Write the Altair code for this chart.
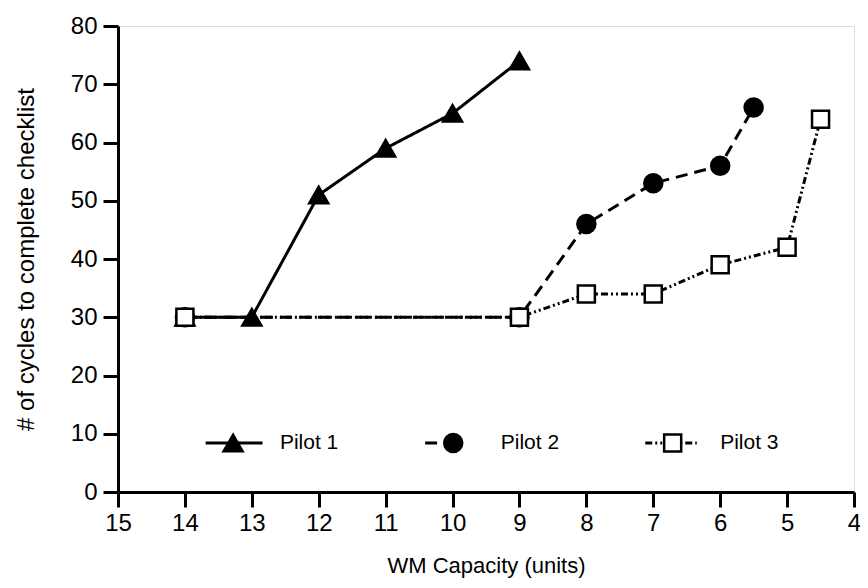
import altair as alt
import pandas as pd

# ---- data ----
pilot1_x = [14, 13, 12, 11, 10, 9]
pilot1_y = [30, 30, 51, 59, 65, 74]
pilot2_x = [14, 9, 8, 7, 6, 5.5]
pilot2_y = [30, 30, 46, 53, 56, 66]
pilot3_x = [14, 9, 8, 7, 6, 5, 4.5]
pilot3_y = [30, 30, 34, 34, 39, 42, 64]

pilots = ["Pilot 1", "Pilot 2", "Pilot 3"]

# legend placement (in data units, inside the plot)
legend_y = 8.4
legend_line_x1 = [13.69, 10.41, 7.12]
legend_line_x2 = [12.84, 9.86, 6.35]
legend_mark_x = [13.28, 9.99, 6.71]
legend_text_x = [12.58, 9.28, 6.0]

x_ticks = [4 + 0.5 * i for i in range(23)]
y_ticks = [5 * i for i in range(17)]

FONT = "Liberation Sans"

rows = []
for name, xs, ys in zip(pilots, [pilot1_x, pilot2_x, pilot3_x], [pilot1_y, pilot2_y, pilot3_y]):
    for xv, yv in zip(xs, ys):
        rows.append({"pilot": name, "x": xv, "y": yv})
df = pd.DataFrame(rows)

leg = pd.DataFrame({
    "pilot": pilots,
    "x1": legend_line_x1,
    "x2": legend_line_x2,
    "mx": legend_mark_x,
    "tx": legend_text_x,
    "y": [legend_y] * 3,
})

dash_scale = alt.Scale(domain=pilots, range=[[1, 0], [12, 7], [7, 3, 2, 3, 2, 3]])
shape_scale = alt.Scale(domain=pilots, range=["triangle-up", "circle", "square"])
fill_scale = alt.Scale(domain=pilots, range=["black", "black", "white"])
size_scale = alt.Scale(domain=pilots, range=[360, 290, 230])

x_scale = alt.Scale(domain=[4, 15], reverse=True, nice=False, zero=False)
y_scale = alt.Scale(domain=[0, 80], nice=False)

x_axis = alt.Axis(
    title="WM Capacity (units)",
    values=x_ticks,
    labelExpr="datum.value % 1 === 0 ? format(datum.value, 'd') : ''",
    tickSize={"expr": "datum.value % 1 === 0 ? 15 : 10"},
    tickWidth=3, tickColor="black",
    domainWidth=3, domainColor="black",
    labelFont=FONT, labelFontSize=24, labelColor="black", labelPadding=4,
    labelFlush=False, labelOverlap=False,
    titleFont=FONT, titleFontSize=22, titleFontWeight="normal", titleColor="black",
    titlePadding=20, grid=False,
)
y_axis = alt.Axis(
    title="# of cycles to complete checklist",
    values=y_ticks,
    labelExpr="datum.value % 10 === 0 ? format(datum.value, 'd') : ''",
    tickSize={"expr": "datum.value % 10 === 0 ? 15 : 9"},
    tickWidth=3, tickColor="black",
    domainWidth=3, domainColor="black",
    labelFont=FONT, labelFontSize=24, labelColor="black", labelPadding=6,
    labelFlush=False, labelOverlap=False,
    titleFont=FONT, titleFontSize=24, titleFontWeight="normal", titleColor="black",
    titlePadding=32, grid=False,
)

base = alt.Chart(df)

lines = base.mark_line(color="black", strokeWidth=3).encode(
    x=alt.X("x:Q", scale=x_scale, axis=x_axis),
    y=alt.Y("y:Q", scale=y_scale, axis=y_axis),
    strokeDash=alt.StrokeDash("pilot:N", scale=dash_scale, legend=None),
    detail="pilot:N",
)

points = base.mark_point(filled=True, opacity=1, stroke="black", strokeWidth=2.5).encode(
    x="x:Q",
    y="y:Q",
    shape=alt.Shape("pilot:N", scale=shape_scale, legend=None),
    fill=alt.Fill("pilot:N", scale=fill_scale, legend=None),
    size=alt.Size("pilot:N", scale=size_scale, legend=None),
    order=alt.Order("pilot:N"),
)

legbase = alt.Chart(leg)
leg_lines = legbase.mark_rule(color="black", strokeWidth=3).encode(
    x="x1:Q", x2="x2:Q", y="y:Q",
    strokeDash=alt.StrokeDash("pilot:N", scale=dash_scale, legend=None),
)
leg_points = legbase.mark_point(filled=True, opacity=1, stroke="black", strokeWidth=2.5).encode(
    x="mx:Q", y="y:Q",
    shape=alt.Shape("pilot:N", scale=shape_scale, legend=None),
    fill=alt.Fill("pilot:N", scale=fill_scale, legend=None),
    size=alt.Size("pilot:N", scale=size_scale, legend=None),
)
leg_text = legbase.mark_text(align="left", baseline="middle", font=FONT, fontSize=21, color="black").encode(
    x="tx:Q", y="y:Q", text="pilot:N",
)

chart = alt.layer(lines, points, leg_lines, leg_points, leg_text).properties(
    width=736, height=466,
    autosize=alt.AutoSizeParams(type="none"),
    padding={"left": 110, "top": 18, "right": 6, "bottom": 88},
).configure_view(stroke=None).configure(background="white")

chart.save("out.html", embed_options={"renderer": "svg", "actions": False})
